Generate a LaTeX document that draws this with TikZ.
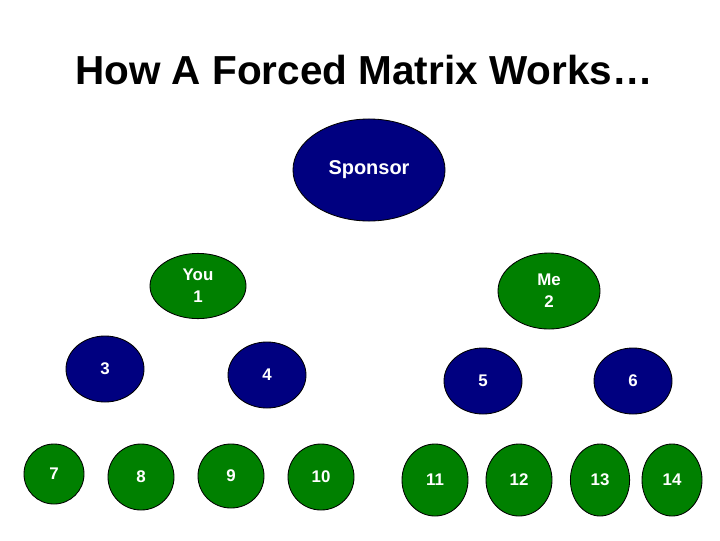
\documentclass[tikz,border=0pt]{standalone}
\usepackage{fontspec}
\setmainfont{Liberation Sans}
\usepackage{xcolor}
\usepackage{tikz}
\usetikzlibrary{shapes.geometric,positioning}

\definecolor{sponsorblue}{RGB}{0,0,128}
\definecolor{membergreen}{RGB}{0,128,0}

\begin{document}
\begin{tikzpicture}[
    x=0.025cm, y=-0.025cm,
    oval/.style={ellipse, draw=black, line width=0.6pt, inner sep=0pt, align=center, text=white, font=\bfseries\fontsize{12pt}{15.5pt}\selectfont},
    blueoval/.style={oval, fill=sponsorblue},
    greenoval/.style={oval, fill=membergreen}
]
\useasboundingbox (0,0) rectangle (720,540);

\node[inner sep=0pt, font=\bfseries\fontsize{28.8pt}{34pt}\selectfont] (title) at (364,70) {How A Forced Matrix Works…};

% top level
\node[blueoval, minimum width=3.8cm, minimum height=2.55cm, font=\bfseries\fontsize{14.2pt}{17pt}\selectfont] (sponsor) at (369,170) {Sponsor};

% first level
\node[greenoval, minimum width=2.4cm, minimum height=1.63cm] (you) at (198,286) {You\\1};
\node[greenoval, minimum width=2.55cm, minimum height=1.9cm] (me) at (549,291) {Me\\2};

% second level
\node[blueoval, minimum width=1.95cm, minimum height=1.65cm] (n3) at (105,369) {3};
\node[blueoval, minimum width=1.95cm, minimum height=1.65cm] (n4) at (267,375) {4};
\node[blueoval, minimum width=1.95cm, minimum height=1.65cm] (n5) at (483,381) {5};
\node[blueoval, minimum width=1.95cm, minimum height=1.65cm] (n6) at (633,381) {6};

% third level
\node[greenoval, minimum width=1.5cm, minimum height=1.5cm] (n7) at (54,474) {7};
\node[greenoval, minimum width=1.65cm, minimum height=1.65cm] (n8) at (141,477) {8};
\node[greenoval, minimum width=1.65cm, minimum height=1.6cm] (n9) at (231,476) {9};
\node[greenoval, minimum width=1.65cm, minimum height=1.65cm] (n10) at (321,477) {10};
\node[greenoval, minimum width=1.65cm, minimum height=1.8cm] (n11) at (435,480) {11};
\node[greenoval, minimum width=1.65cm, minimum height=1.8cm] (n12) at (519,480) {12};
\node[greenoval, minimum width=1.48cm, minimum height=1.8cm] (n13) at (600,480) {13};
\node[greenoval, minimum width=1.5cm, minimum height=1.8cm] (n14) at (672,480) {14};
\end{tikzpicture}
\end{document}
